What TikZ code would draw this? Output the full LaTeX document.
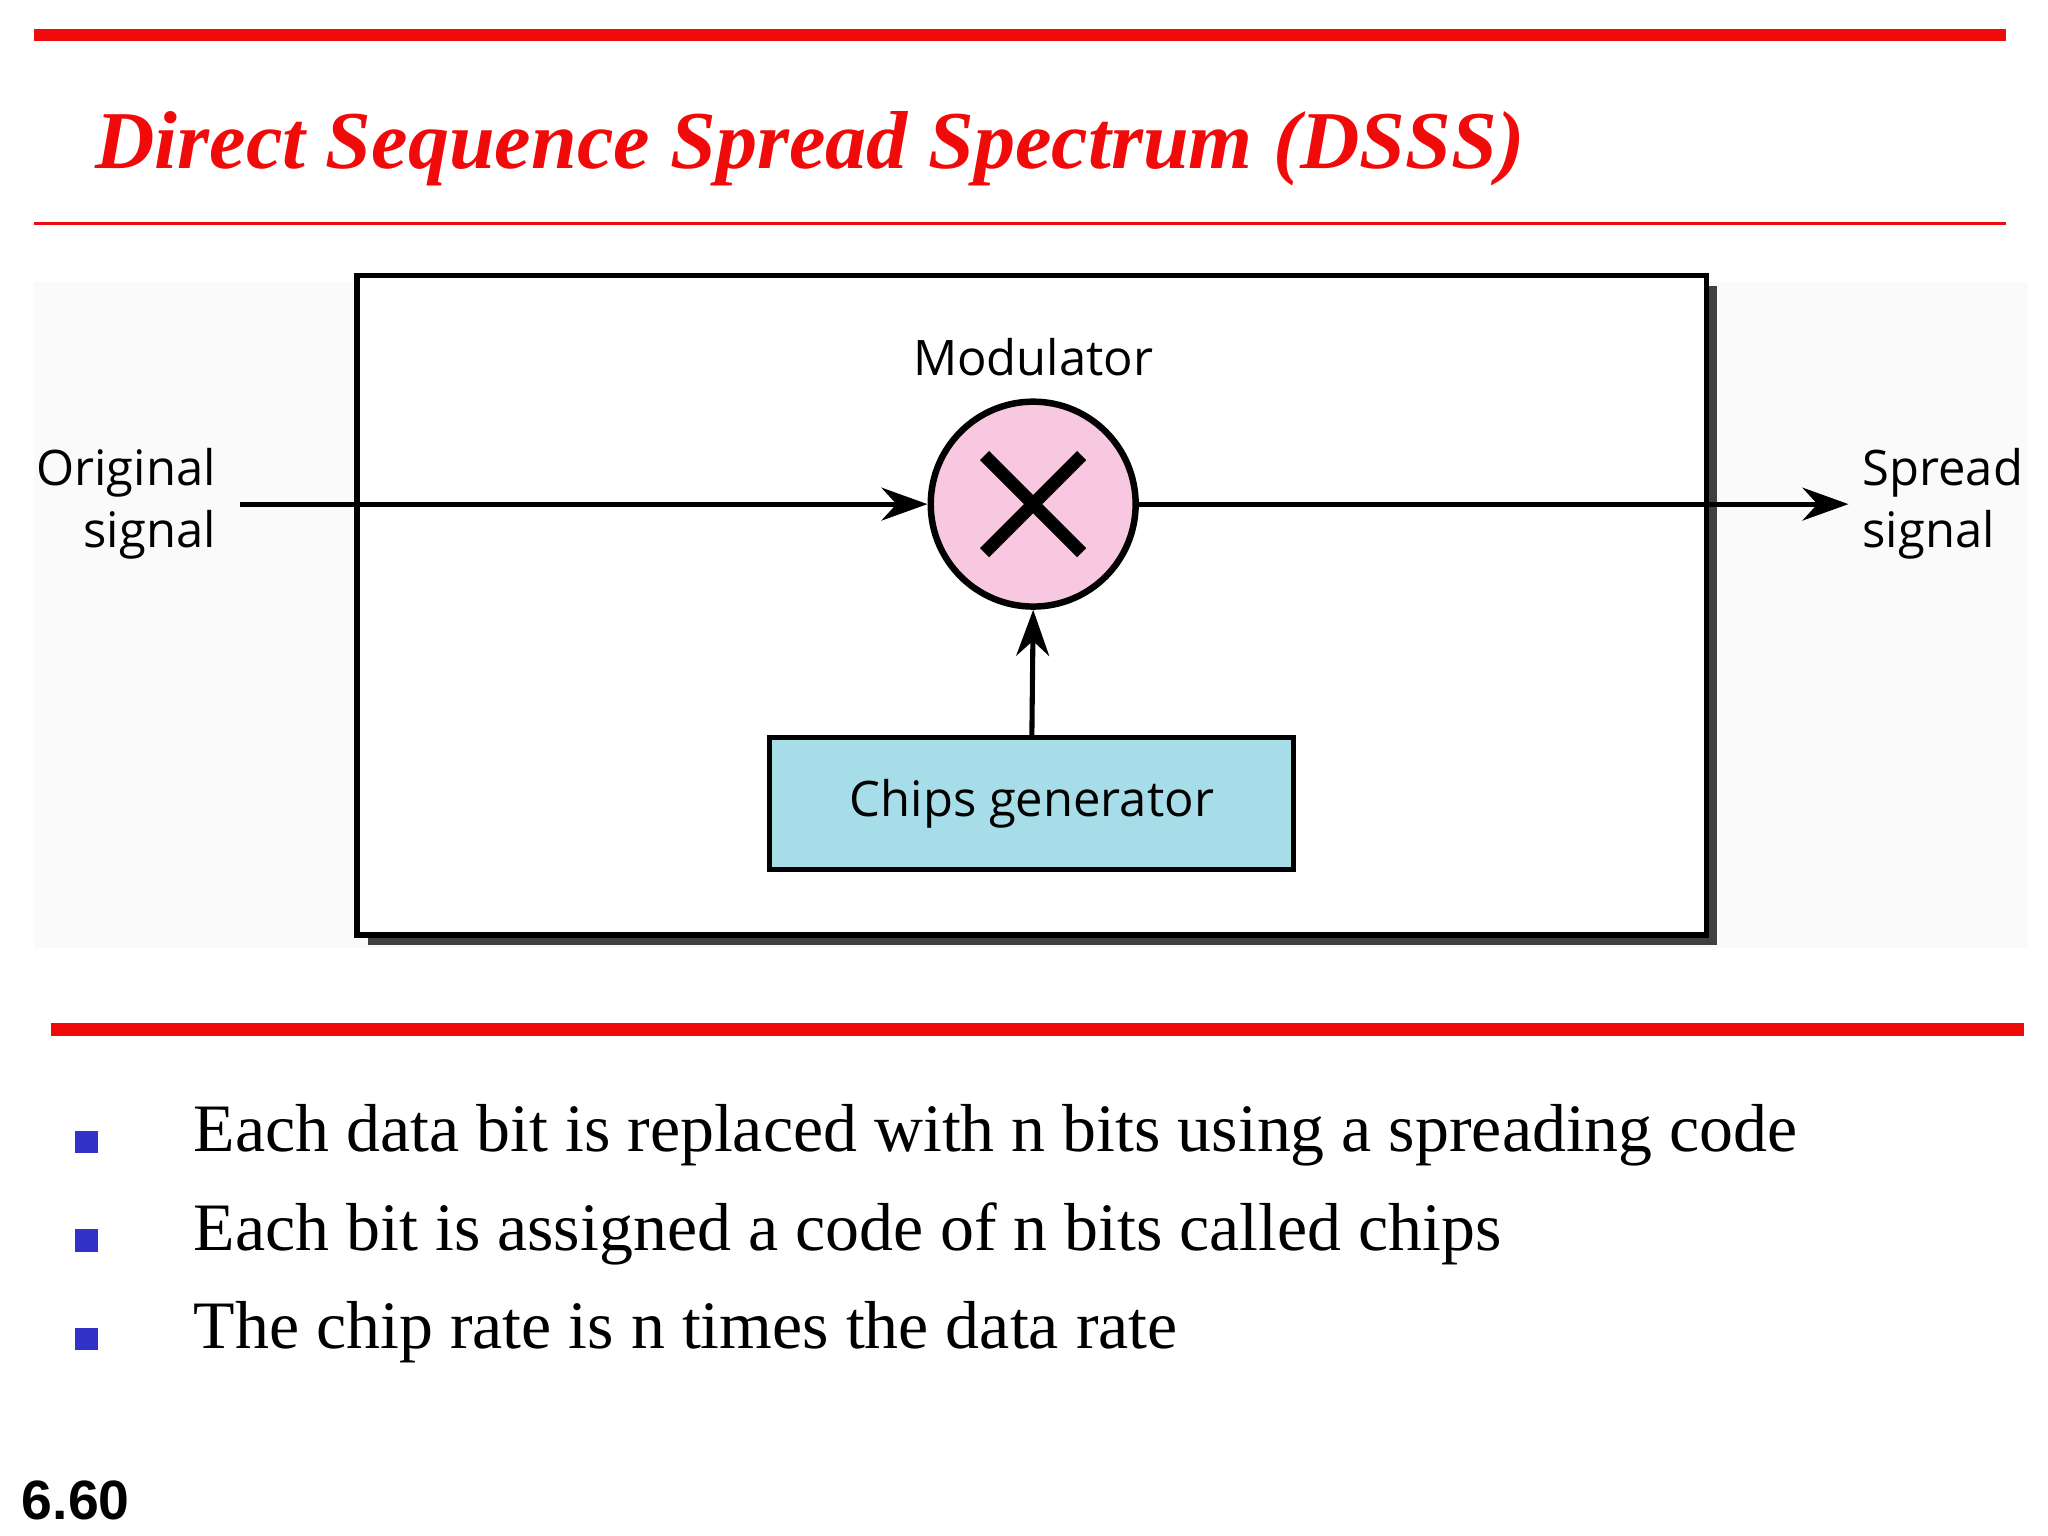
\documentclass[tikz,border=0pt]{standalone}
\usepackage{fontspec}
\setmainfont{Liberation Serif}
\newfontfamily\dsans{Open Sans}
\newfontfamily\darial{Liberation Sans}
\usetikzlibrary{arrows.meta}
\definecolor{tred}{RGB}{240,10,10}
\definecolor{pinkf}{RGB}{247,200,224}
\definecolor{cyanf}{RGB}{166,221,232}
\definecolor{bblue}{RGB}{50,50,200}
\tikzset{
 lab/.style={font=\dsans\fontsize{10.6}{13.5}\selectfont, inner sep=0pt},
 bul/.style={fill=bblue, minimum size=0.17cm, inner sep=0pt},
 btxt/.style={anchor=west, font=\fontsize{14.7}{17}\selectfont, inner sep=0pt},
 arr/.style={line width=1.1pt, -{Stealth[length=0.35cm,width=0.25cm]}}
}
\begin{document}
\begin{tikzpicture}[x=0.01cm,y=-0.01cm]
\useasboundingbox (0,0) rectangle (1560,1170);
\fill[white] (0,0) rectangle (1560,1170);
\fill[tred] (26,22) rectangle (1528,31);
\node[anchor=west, text=tred, inner sep=0pt, font=\bfseries\itshape\fontsize{17.8}{21}\selectfont] (title) at (72,113) {Direct Sequence Spread Spectrum (DSSS)};
\fill[tred] (26,169) rectangle (1528,171.5);
\fill[black!2] (26,215) rectangle (1545,722);
% box
\fill[black!75] (280,218) rectangle (1308,720);
\draw[line width=1.2pt, fill=white] (272,210) rectangle (1300,712);
\node[draw=black, line width=1.4pt, fill=pinkf, circle, minimum size=1.56cm, inner sep=0pt] (mod) at (787,384) {};
\draw[line width=2.8pt] (750,347) -- (824,421) (824,347) -- (750,421);
\node[lab] (modl) at (787,272) {Modulator};
\node[draw=black, line width=1.1pt, fill=cyanf, minimum width=3.99cm, minimum height=1.0cm, inner sep=0pt, lab] (chips) at (786,612) {Chips generator};
\node[lab, align=right, anchor=east] (orig) at (165,384) {Original\\signal};
\node[lab, align=left, anchor=west] (spread) at (1418,384) {Spread\\signal};
\coordinate (in) at (183,384);
\coordinate (out) at (1408,384);
\draw[arr] (in) -- (mod.west);
\draw[arr] (mod.east) -- (out);
\draw[arr] (chips.north) -- (mod.south);
\fill[tred] (39,779) rectangle (1542,789);
\node[bul] (b1) at (66,870) {};
\node[bul] (b2) at (66,945) {};
\node[bul] (b3) at (66,1020) {};
\node[btxt] (t1) at (147,865) {Each data bit is replaced with n bits using a spreading code};
\node[btxt] (t2) at (147,940) {Each bit is assigned a code of n bits called chips};
\node[btxt] (t3) at (147,1015) {The chip rate is n times the data rate};
\node[anchor=west, inner sep=0pt, font=\darial\bfseries\fontsize{12}{14}\selectfont] (pg) at (16,1143) {6.60};
\end{tikzpicture}
\end{document}
